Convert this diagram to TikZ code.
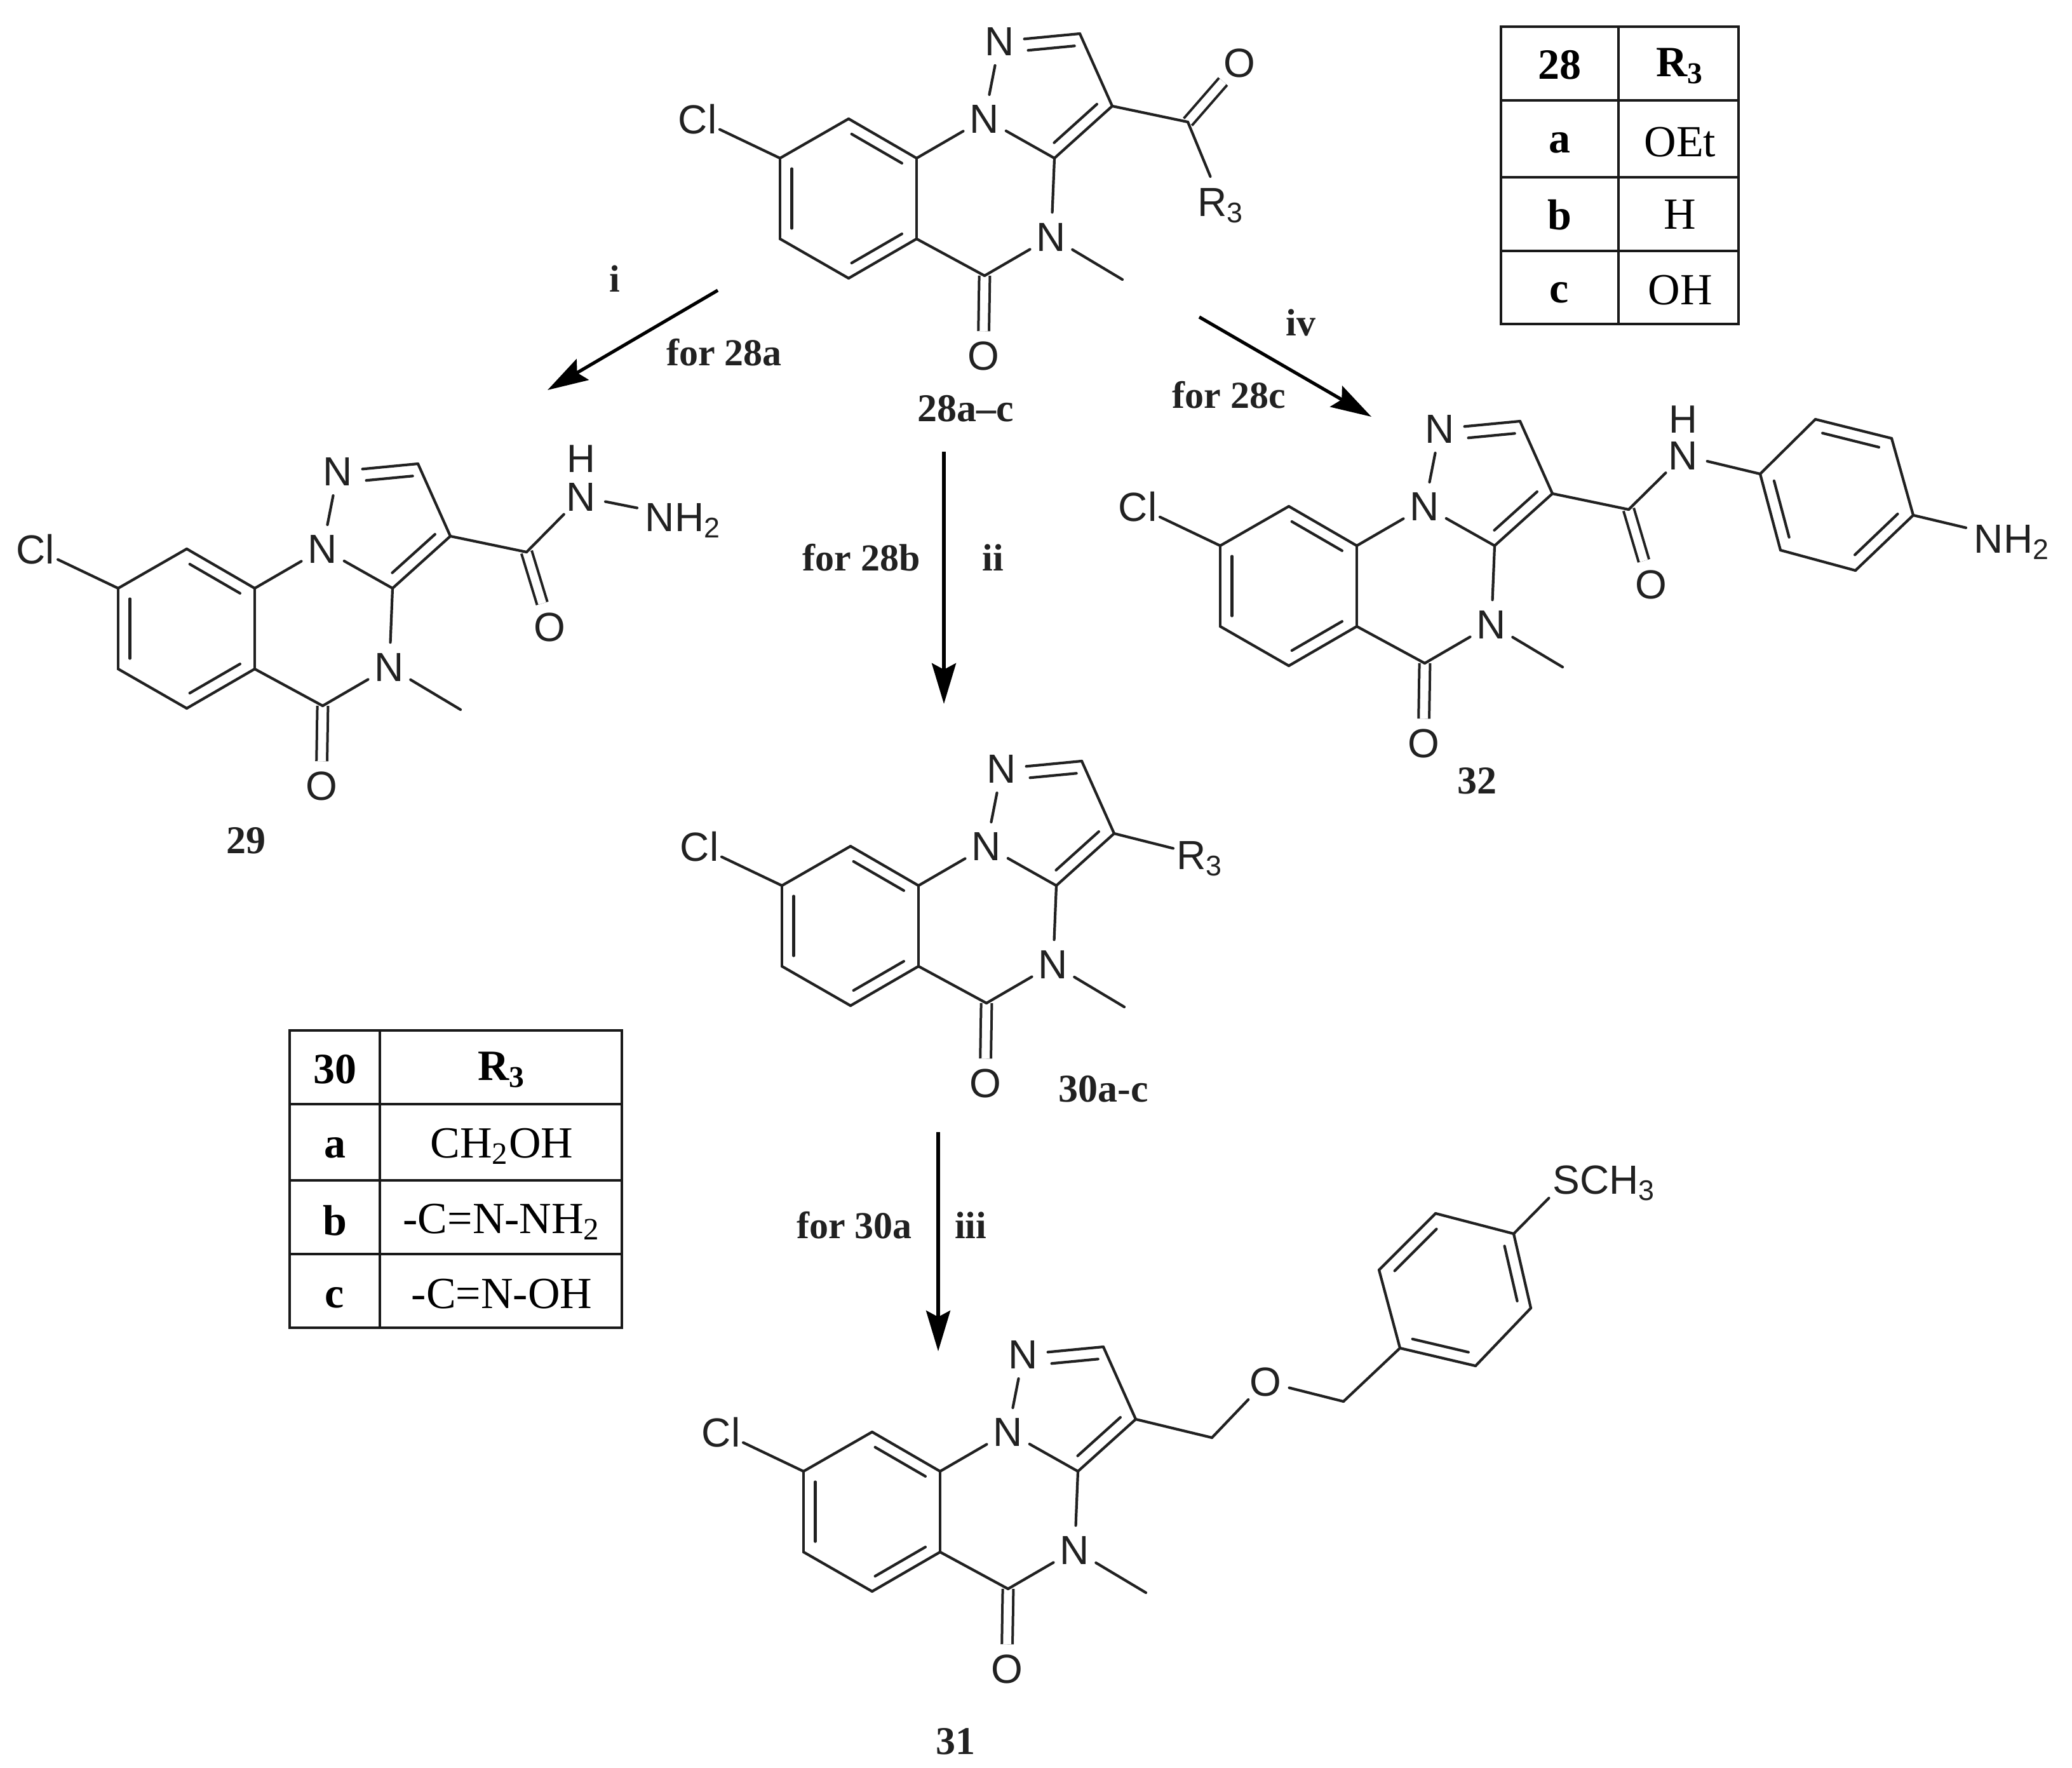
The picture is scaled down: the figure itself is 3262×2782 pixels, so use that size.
\documentclass[tikz,border=0pt]{standalone}
\usepackage{fontspec}
\setmainfont{Liberation Serif}
\newfontfamily\atomfamily{Liberation Sans}
\usetikzlibrary{calc,arrows.meta}
\definecolor{ink}{gray}{0.13}
\tikzset{
  bondline/.style={draw=ink,line width=1.05pt,line cap=round,line join=round},
  dblbond/.style={draw=ink,line width=1pt,double=white,double distance=3.2pt},
  atom/.style={circle,inner sep=0pt,minimum size=19pt,text depth=0pt,text=ink,font=\atomfamily\fontsize{16pt}{18pt}\selectfont},
  group/.style={rectangle,inner sep=3pt,text depth=0pt,text=ink,font=\atomfamily\fontsize{16pt}{18pt}\selectfont},
  plainatom/.style={circle,inner sep=0pt,text depth=0pt,text=ink,font=\atomfamily\fontsize{15.5pt}{16pt}\selectfont},
  cmpd/.style={inner sep=0pt,text=ink,font=\bfseries\fontsize{15.5pt}{18pt}\selectfont},
  cond/.style={inner sep=0pt,text=ink,font=\bfseries\fontsize{15pt}{18pt}\selectfont},
  cellhead/.style={inner sep=0pt,text=black,font=\bfseries\fontsize{17pt}{20pt}\selectfont},
  celltext/.style={inner sep=0pt,text=black,font=\fontsize{17.5pt}{20pt}\selectfont},
  tabline/.style={draw=black!90,line width=1.1pt},
  rxn/.style={draw=black,line width=1.3pt,-{Stealth[length=16pt,width=9.5pt,inset=2.5pt]}},
}
\newcommand\bnd[2]{\draw[bondline] (#1) -- (#2);}
\newcommand\inr[2]{\draw[bondline] ($(#1)!0.13!(#2)!4.6pt!90:(#2)$) -- ($(#1)!0.87!(#2)!4.6pt!90:(#2)$);}
\newcommand\scaffold[3]{%
  \begin{scope}[shift={(#2,#3)}]
    \coordinate (#1C9a) at (0,0);
    \coordinate (#1CH) at (257,-196);
    \coordinate (#1C3) at (308,-82);
    \coordinate (#1C3a) at (217,0);
    \coordinate (#1C5) at (107,185);
    \coordinate (#1C5a) at (0,127);
    \coordinate (#1C9) at (-107,-62);
    \coordinate (#1C8) at (-215,0);
    \coordinate (#1C7) at (-215,127);
    \coordinate (#1C6) at (-107,189);
    \coordinate (#1Me) at (324,191);
    \node[atom] (#1N1) at (131,-184) {N};
    \node[atom] (#1N10) at (107,-62) {N};
    \node[atom] (#1N4) at (212,124) {N};
    \node[atom] (#1Cl) at (-345,-62) {Cl};
    \node[atom] (#1O) at (105,311) {O};
    \draw[dblbond] (#1C5) -- (#1O);
    \bnd{#1N1}{#1CH}\bnd{#1CH}{#1C3}\bnd{#1C3}{#1C3a}\bnd{#1C3a}{#1N10}\bnd{#1N10}{#1N1}
    \bnd{#1C3a}{#1N4}\bnd{#1N4}{#1C5}\bnd{#1C5}{#1C5a}\bnd{#1C5a}{#1C9a}\bnd{#1C9a}{#1N10}
    \bnd{#1C9a}{#1C9}\bnd{#1C9}{#1C8}\bnd{#1C8}{#1C7}\bnd{#1C7}{#1C6}\bnd{#1C6}{#1C5a}
    \bnd{#1C8}{#1Cl}\bnd{#1N4}{#1Me}
    \draw[bondline] ($(#1CH)!0.08!(#1N1)!4.6pt!90:(#1N1)$) -- ($(#1CH)!0.66!(#1N1)!4.6pt!90:(#1N1)$);
    \inr{#1C3a}{#1C3}\inr{#1C9a}{#1C9}\inr{#1C8}{#1C7}\inr{#1C6}{#1C5a}
  \end{scope}}
\begin{document}
\begin{tikzpicture}[x=0.25pt,y=-0.25pt]
\useasboundingbox (0,0) rectangle (3262,2782);
\fill[white] (0,0) rectangle (3262,2782);

% compound 28
\scaffold{a}{1443}{249}
\coordinate (aCO) at (1870,192);
\node[atom] (aOx) at (1951,99) {O};
\node[atom] (aR) at (1922,318) {R\textsubscript{3}};
\draw[dblbond] (aCO) -- (aOx);
\bnd{aC3}{aCO}\bnd{aCO}{aR}
\node[cmpd] (l28) at (1520,643) {28a--c};

% compound 29
\scaffold{b}{401}{926}
\coordinate (bCO) at (829,869);
\node[atom] (bOx) at (865,987) {O};
\node[atom] (bNH) at (915,782) {N};
\node[plainatom] (bH) at (915,722) {H};
\node[group,anchor=west] (bNH2) at (1003,814) {NH\textsubscript{2}};
\draw[dblbond] (bCO) -- (bOx);
\bnd{bC3}{bCO}\bnd{bCO}{bNH}\bnd{bNH}{bNH2}
\node[cmpd] (l29) at (387,1323) {29};

% compound 30
\scaffold{c}{1446}{1394}
\node[atom] (cR) at (1889,1346) {R\textsubscript{3}};
\bnd{cC3}{cR}
\node[cmpd] (l30) at (1737,1714) {30a-c};

% compound 32
\scaffold{d}{2136}{859}
\coordinate (dCO) at (2564,802);
\node[atom] (dOx) at (2599,920) {O};
\node[atom] (dNH) at (2650,717) {N};
\node[plainatom] (dH) at (2650,660) {H};
\coordinate (dR1) at (2771,746);
\coordinate (dR2) at (2858,660);
\coordinate (dR3) at (2978,690);
\coordinate (dR4) at (3012,811);
\coordinate (dR5) at (2921,898);
\coordinate (dR6) at (2803,866);
\node[group,anchor=west] (dNH2) at (3095,848) {NH\textsubscript{2}};
\draw[dblbond] (dCO) -- (dOx);
\bnd{dC3}{dCO}\bnd{dCO}{dNH}\bnd{dNH}{dR1}
\bnd{dR1}{dR2}\bnd{dR2}{dR3}\bnd{dR3}{dR4}\bnd{dR4}{dR5}\bnd{dR5}{dR6}\bnd{dR6}{dR1}
\inr{dR1}{dR6}\inr{dR3}{dR2}\inr{dR5}{dR4}
\bnd{dR4}{dNH2}
\node[cmpd] (l32) at (2325,1229) {32};

% compound 31
\scaffold{e}{1480}{2316}
\coordinate (eCH) at (1908,2263);
\node[atom] (eOx) at (1992,2175) {O};
\coordinate (eCHb) at (2115,2206);
\coordinate (eR1) at (2204,2122);
\coordinate (eR2) at (2323,2150);
\coordinate (eR3) at (2410,2059);
\coordinate (eR4) at (2383,1942);
\coordinate (eR5) at (2260,1910);
\coordinate (eR6) at (2171,1999);
\node[group,inner sep=0pt,anchor=west] (eS) at (2444,1857) {SCH\textsubscript{3}};
\bnd{eC3}{eCH}\bnd{eCH}{eOx}\bnd{eOx}{eCHb}\bnd{eCHb}{eR1}
\bnd{eR1}{eR2}\bnd{eR2}{eR3}\bnd{eR3}{eR4}\bnd{eR4}{eR5}\bnd{eR5}{eR6}\bnd{eR6}{eR1}
\inr{eR1}{eR2}\inr{eR3}{eR4}\inr{eR5}{eR6}
\draw[bondline,shorten >=2pt] (eR4) -- (eS.south west);
\node[cmpd] (l31) at (1504,2741) {31};

% reaction arrows
\coordinate (i0) at (1130,457);  \coordinate (i1) at (862,614);
\coordinate (ii0) at (1486,711); \coordinate (ii1) at (1486,1108);
\coordinate (iii0) at (1477,1782); \coordinate (iii1) at (1477,2127);
\coordinate (iv0) at (1888,499); \coordinate (iv1) at (2159,656);
\draw[rxn] (i0) -- (i1);
\draw[rxn] (ii0) -- (ii1);
\draw[rxn] (iii0) -- (iii1);
\draw[rxn] (iv0) -- (iv1);
\node[cond] (ci) at (968,439) {i};
\node[cond] (fa) at (1140,555) {for 28a};
\node[cond] (fb) at (1356,878) {for 28b};
\node[cond] (cii) at (1563,878) {ii};
\node[cond] (fc) at (1345,1929) {for 30a};
\node[cond] (ciii) at (1528,1929) {iii};
\node[cond] (civ) at (2048,508) {iv};
\node[cond] (fd) at (1935,622) {for 28c};

% table 28
\draw[tabline] (2363,42) rectangle (2737,510);
\draw[tabline] (2548,42) -- (2548,510);
\draw[tabline] (2363,158) -- (2737,158);
\draw[tabline] (2363,279) -- (2737,279);
\draw[tabline] (2363,395) -- (2737,395);
\node[cellhead] (t28) at (2455,102) {28};
\node[cellhead] (t28r) at (2645,104) {R\textsubscript{3}};
\node[cellhead] (t28a) at (2455,225) {a};
\node[celltext] (t28ar) at (2645,224) {OEt};
\node[cellhead] (t28b) at (2455,338) {b};
\node[celltext] (t28br) at (2645,338) {H};
\node[cellhead] (t28c) at (2455,461) {c};
\node[celltext] (t28cr) at (2645,457) {OH};

% table 30
\draw[tabline] (456,1622) rectangle (979,2090);
\draw[tabline] (598,1622) -- (598,2090);
\draw[tabline] (456,1738) -- (979,1738);
\draw[tabline] (456,1858) -- (979,1858);
\draw[tabline] (456,1974) -- (979,1974);
\node[cellhead] (t30) at (527,1683) {30};
\node[cellhead] (t30r) at (790,1684) {R\textsubscript{3}};
\node[cellhead] (t30a) at (527,1807) {a};
\node[celltext] (t30ar) at (790,1804) {CH\textsubscript{2}OH};
\node[cellhead] (t30b) at (527,1921) {b};
\node[celltext] (t30br) at (790,1923) {-C=N-NH\textsubscript{2}};
\node[cellhead] (t30c) at (527,2043) {c};
\node[celltext] (t30cr) at (790,2037) {-C=N-OH};
\end{tikzpicture}
\end{document}
